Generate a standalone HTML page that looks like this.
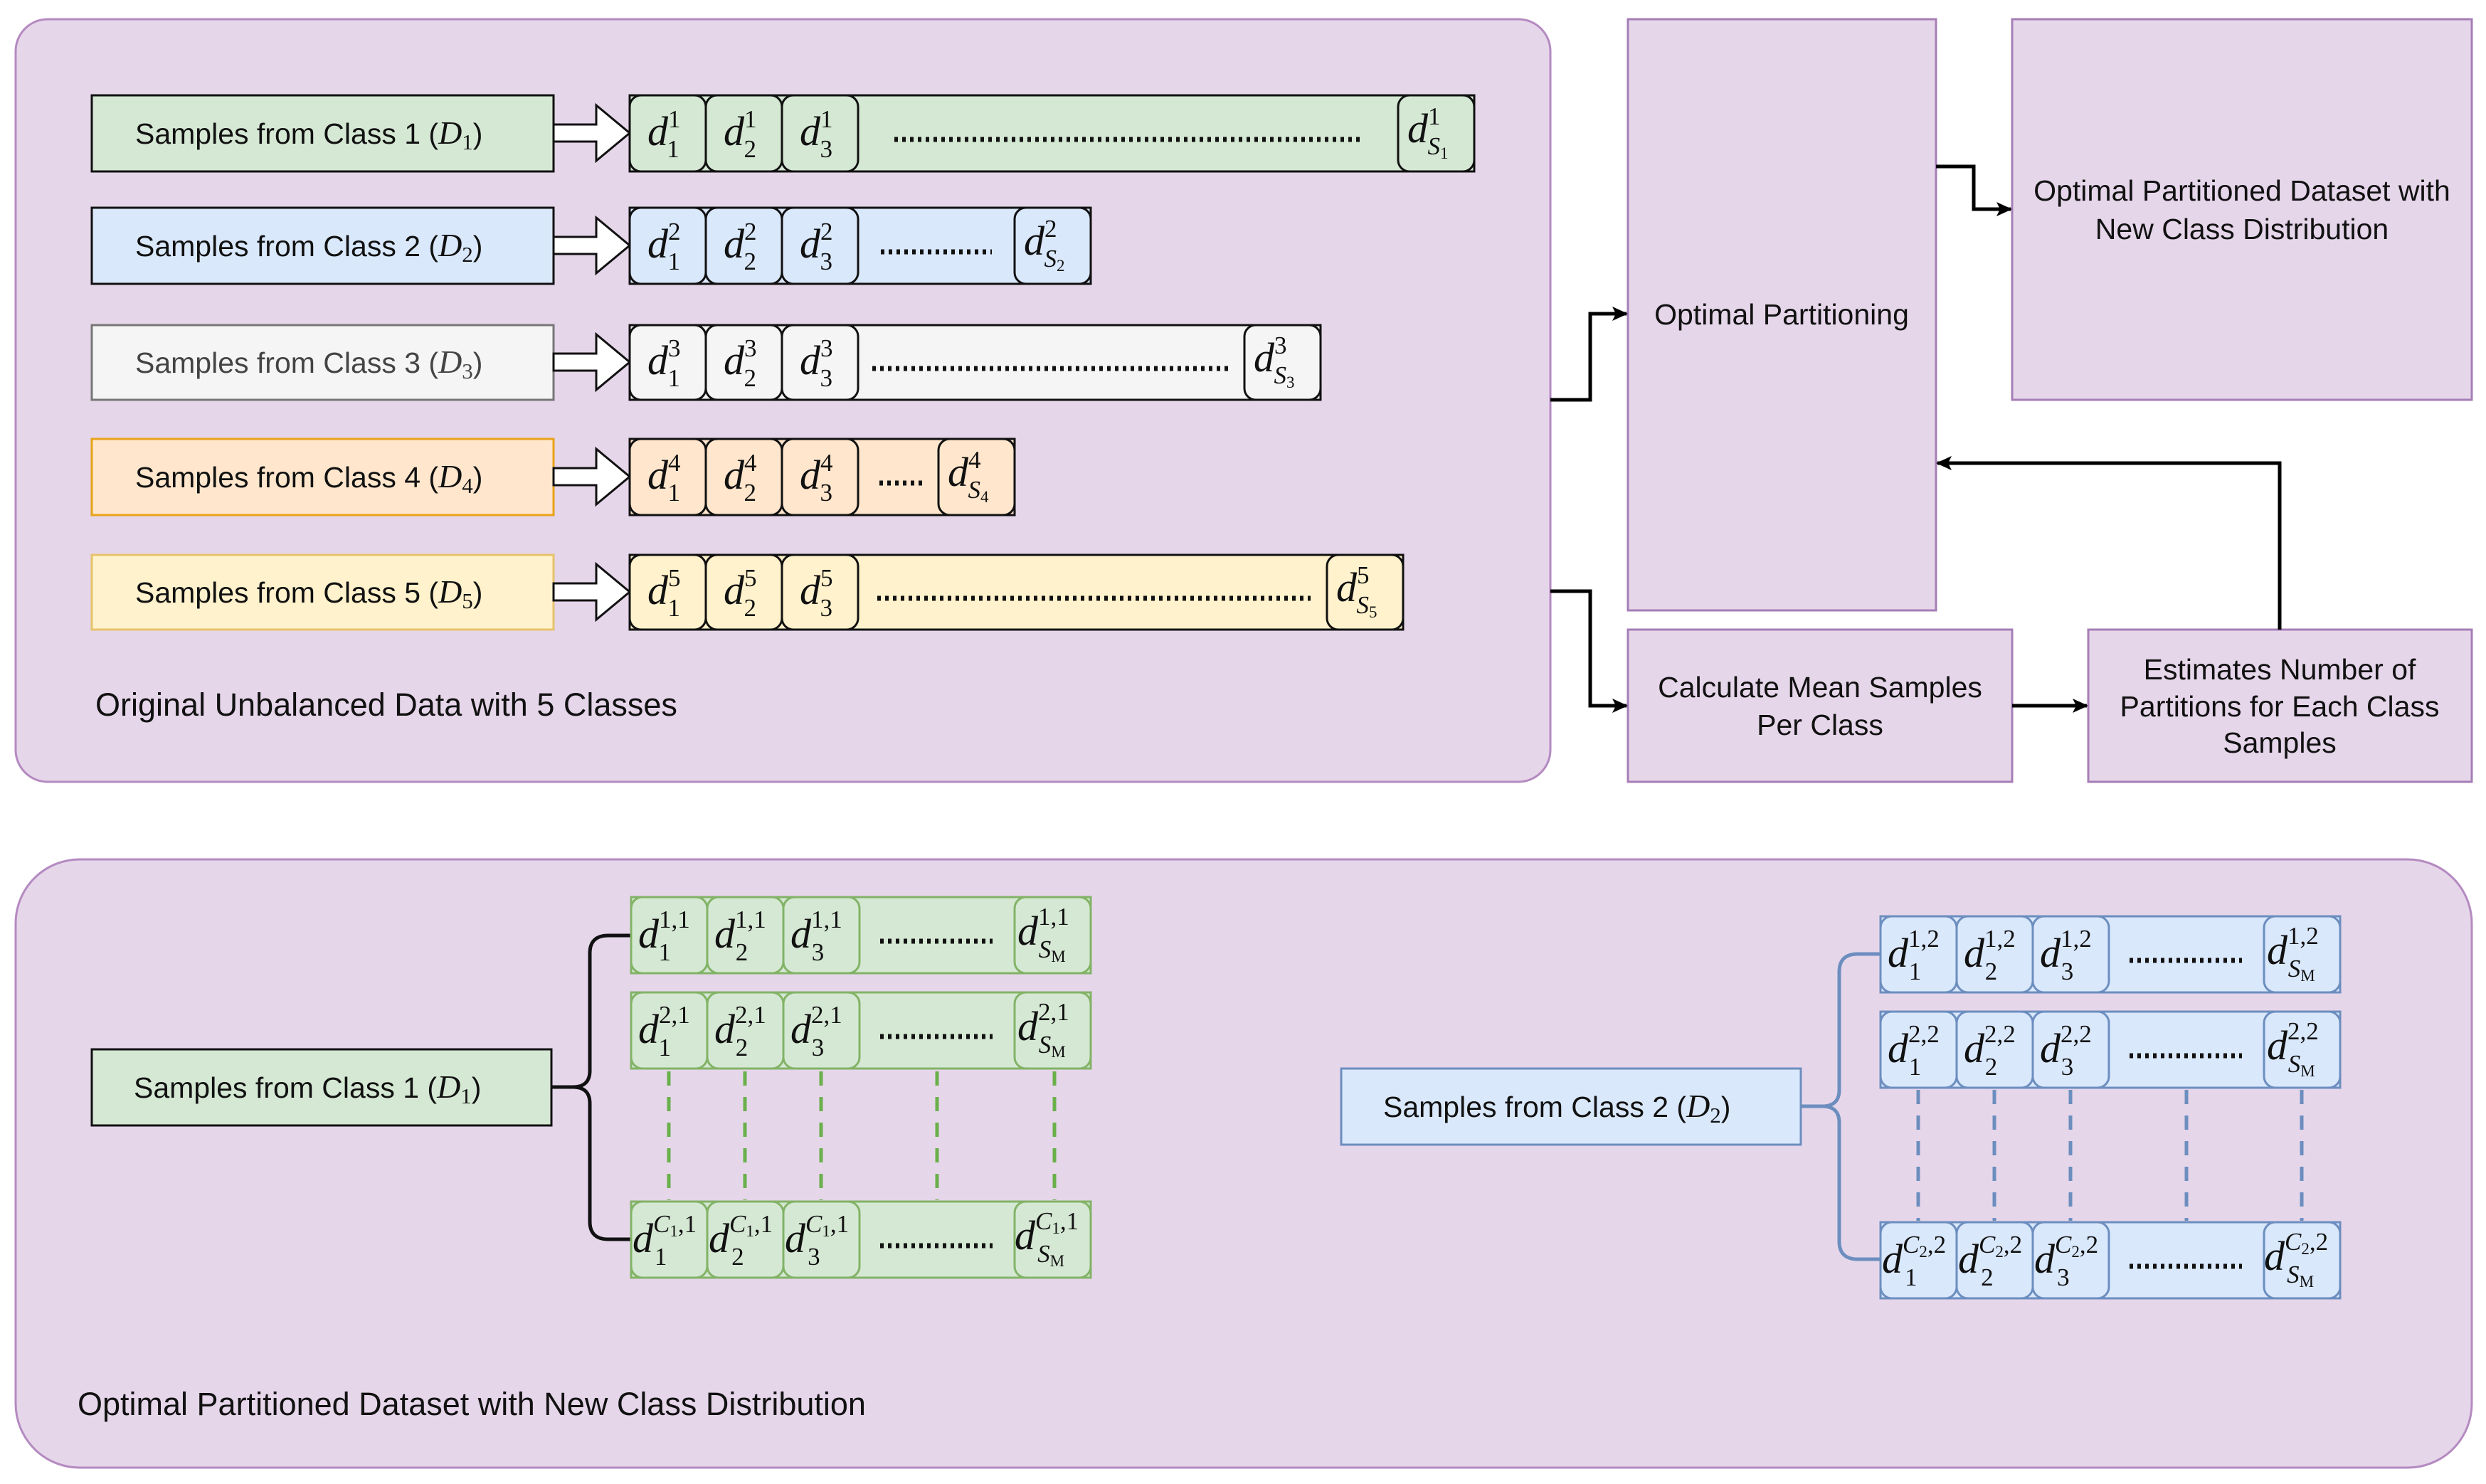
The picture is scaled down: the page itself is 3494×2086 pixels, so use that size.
<!DOCTYPE html>
<html><head><meta charset="utf-8"><style>
html,body{margin:0;padding:0;background:#fff}
svg{display:block}
.t{font-family:"Liberation Sans",sans-serif;font-size:41px;fill:#111}
.m{font-family:"Liberation Serif",serif;font-size:58px;font-style:italic;fill:#111}
.s{font-style:normal;font-size:35px}
.si{font-style:italic;font-size:35px}
.ss{font-style:normal;font-size:23px}
.dots{stroke:#111;stroke-width:7;stroke-dasharray:5 6}
</style></head><body>
<svg width="3494" height="2086" viewBox="0 0 3494 2086" xmlns="http://www.w3.org/2000/svg">
<defs>
<marker id="ar" markerWidth="24" markerHeight="24" refX="20" refY="12" orient="auto" markerUnits="userSpaceOnUse" viewBox="0 0 24 24"><path d="M0,2 L22,12 L0,22 L5,12z" fill="#000"/></marker>
</defs>
<rect x="22" y="27" width="2157" height="1072" rx="45" fill="#e6d6ea" stroke="#b48ac0" stroke-width="3"/>
<rect x="22" y="1208" width="3452" height="855" rx="90" fill="#e6d6ea" stroke="#b48ac0" stroke-width="3"/>

<rect x="2288" y="27" width="433" height="831" fill="#e6d6ea" stroke="#a67db6" stroke-width="3"/>
<rect x="2828" y="27" width="646" height="535" fill="#e6d6ea" stroke="#a67db6" stroke-width="3"/>
<rect x="2288" y="885" width="540" height="214" fill="#e6d6ea" stroke="#a67db6" stroke-width="3"/>
<rect x="2935" y="885" width="539" height="214" fill="#e6d6ea" stroke="#a67db6" stroke-width="3"/>
<text class="t" x="2504" y="456" text-anchor="middle">Optimal Partitioning</text>
<text class="t" x="3151" y="282" text-anchor="middle">Optimal Partitioned Dataset with</text>
<text class="t" x="3151" y="336" text-anchor="middle">New Class Distribution</text>
<text class="t" x="2558" y="980" text-anchor="middle">Calculate Mean Samples</text>
<text class="t" x="2558" y="1033" text-anchor="middle">Per Class</text>
<text class="t" x="3204" y="955" text-anchor="middle">Estimates Number of</text>
<text class="t" x="3204" y="1007" text-anchor="middle">Partitions for Each Class</text>
<text class="t" x="3204" y="1058" text-anchor="middle">Samples</text>

<g fill="none" stroke="#000" stroke-width="5">
<path d="M2179,562 H2235 V441 H2286" marker-end="url(#ar)"/>
<path d="M2179,831 H2235 V992 H2286" marker-end="url(#ar)"/>
<path d="M2828,992 H2933" marker-end="url(#ar)"/>
<path d="M3204,885 V651 H2723" marker-end="url(#ar)"/>
<path d="M2721,234 H2774 V294 H2826" marker-end="url(#ar)"/>
</g>

<rect x="129" y="134" width="649" height="107" fill="#d5e8d4" stroke="#111" stroke-width="3"/>
<rect x="129" y="292" width="649" height="107" fill="#dae8fc" stroke="#111" stroke-width="3"/>
<rect x="129" y="457" width="649" height="105" fill="#f5f5f5" stroke="#777" stroke-width="3"/>
<rect x="129" y="617" width="649" height="107" fill="#ffe6cc" stroke="#e8a317" stroke-width="3"/>
<rect x="129" y="780" width="649" height="105" fill="#fff2cc" stroke="#e6c36a" stroke-width="3"/>
<text class="t" x="190" y="202">Samples from Class 1 (<tspan font-family="Liberation Serif" font-style="italic" font-size="46">D</tspan><tspan font-family="Liberation Serif" font-size="31" dy="8">1</tspan><tspan dy="-8">)</tspan></text>
<text class="t" x="190" y="360">Samples from Class 2 (<tspan font-family="Liberation Serif" font-style="italic" font-size="46">D</tspan><tspan font-family="Liberation Serif" font-size="31" dy="8">2</tspan><tspan dy="-8">)</tspan></text>
<text class="t" x="190" y="524" style="fill:#444">Samples from Class 3 (<tspan font-family="Liberation Serif" font-style="italic" font-size="46">D</tspan><tspan font-family="Liberation Serif" font-size="31" dy="8">3</tspan><tspan dy="-8">)</tspan></text>
<text class="t" x="190" y="685">Samples from Class 4 (<tspan font-family="Liberation Serif" font-style="italic" font-size="46">D</tspan><tspan font-family="Liberation Serif" font-size="31" dy="8">4</tspan><tspan dy="-8">)</tspan></text>
<text class="t" x="190" y="847">Samples from Class 5 (<tspan font-family="Liberation Serif" font-style="italic" font-size="46">D</tspan><tspan font-family="Liberation Serif" font-size="31" dy="8">5</tspan><tspan dy="-8">)</tspan></text>

<g fill="#fff" stroke="#111" stroke-width="3">
<path d="M778,175 H838 V148 L885,187 L838,226 V199 H778 Z"/>
<path d="M778,333 H838 V306 L885,345 L838,384 V357 H778 Z"/>
<path d="M778,497 H838 V470 L885,509 L838,548 V521 H778 Z"/>
<path d="M778,658 H838 V631 L885,670 L838,709 V682 H778 Z"/>
<path d="M778,820 H838 V793 L885,832 L838,871 V844 H778 Z"/>
</g>

<g stroke="#111" stroke-width="3">
<rect x="885" y="134" width="1187" height="107" fill="#d5e8d4"/>
<rect x="885" y="292" width="648" height="107" fill="#dae8fc"/>
<rect x="885" y="457" width="971" height="105" fill="#f5f5f5"/>
<rect x="885" y="617" width="541" height="107" fill="#ffe6cc"/>
<rect x="885" y="780" width="1087" height="105" fill="#fff2cc"/>
</g>
<g stroke="#111" stroke-width="3" fill="none">
<rect x="885" y="134" width="107" height="107" rx="16"/><rect x="992" y="134" width="107" height="107" rx="16"/><rect x="1099" y="134" width="107" height="107" rx="16"/><rect x="1965" y="134" width="107" height="107" rx="16"/>
<rect x="885" y="292" width="107" height="107" rx="16"/><rect x="992" y="292" width="107" height="107" rx="16"/><rect x="1099" y="292" width="107" height="107" rx="16"/><rect x="1426" y="292" width="107" height="107" rx="16"/>
<rect x="885" y="457" width="107" height="105" rx="16"/><rect x="992" y="457" width="107" height="105" rx="16"/><rect x="1099" y="457" width="107" height="105" rx="16"/><rect x="1749" y="457" width="107" height="105" rx="16"/>
<rect x="885" y="617" width="107" height="107" rx="16"/><rect x="992" y="617" width="107" height="107" rx="16"/><rect x="1099" y="617" width="107" height="107" rx="16"/><rect x="1319" y="617" width="107" height="107" rx="16"/>
<rect x="885" y="780" width="107" height="105" rx="16"/><rect x="992" y="780" width="107" height="105" rx="16"/><rect x="1099" y="780" width="107" height="105" rx="16"/><rect x="1865" y="780" width="107" height="105" rx="16"/>
</g>
<g class="dots">
<line x1="1257" y1="196" x2="1916" y2="196"/>
<line x1="1238" y1="354" x2="1394" y2="354"/>
<line x1="1226" y1="518" x2="1729" y2="518"/>
<line x1="1236" y1="679" x2="1300" y2="679"/>
<line x1="1233" y1="841" x2="1842" y2="841"/>
</g>
<g>
<text class="m" x="910" y="204">d<tspan class="s" dy="-25">1</tspan><tspan class="s" dx="-18" dy="42">1</tspan></text>
<text class="m" x="1017" y="204">d<tspan class="s" dy="-25">1</tspan><tspan class="s" dx="-18" dy="42">2</tspan></text>
<text class="m" x="1124" y="204">d<tspan class="s" dy="-25">1</tspan><tspan class="s" dx="-18" dy="42">3</tspan></text>
<text class="m" x="1978" y="200">d<tspan class="s" dy="-25">1</tspan><tspan class="si" dx="-18" dy="42">S</tspan><tspan class="ss" dy="6">1</tspan></text>

<text class="m" x="910" y="362">d<tspan class="s" dy="-25">2</tspan><tspan class="s" dx="-18" dy="42">1</tspan></text>
<text class="m" x="1017" y="362">d<tspan class="s" dy="-25">2</tspan><tspan class="s" dx="-18" dy="42">2</tspan></text>
<text class="m" x="1124" y="362">d<tspan class="s" dy="-25">2</tspan><tspan class="s" dx="-18" dy="42">3</tspan></text>
<text class="m" x="1439" y="358">d<tspan class="s" dy="-25">2</tspan><tspan class="si" dx="-18" dy="42">S</tspan><tspan class="ss" dy="6">2</tspan></text>

<text class="m" x="910" y="526">d<tspan class="s" dy="-25">3</tspan><tspan class="s" dx="-18" dy="42">1</tspan></text>
<text class="m" x="1017" y="526">d<tspan class="s" dy="-25">3</tspan><tspan class="s" dx="-18" dy="42">2</tspan></text>
<text class="m" x="1124" y="526">d<tspan class="s" dy="-25">3</tspan><tspan class="s" dx="-18" dy="42">3</tspan></text>
<text class="m" x="1762" y="522">d<tspan class="s" dy="-25">3</tspan><tspan class="si" dx="-18" dy="42">S</tspan><tspan class="ss" dy="6">3</tspan></text>

<text class="m" x="910" y="687">d<tspan class="s" dy="-25">4</tspan><tspan class="s" dx="-18" dy="42">1</tspan></text>
<text class="m" x="1017" y="687">d<tspan class="s" dy="-25">4</tspan><tspan class="s" dx="-18" dy="42">2</tspan></text>
<text class="m" x="1124" y="687">d<tspan class="s" dy="-25">4</tspan><tspan class="s" dx="-18" dy="42">3</tspan></text>
<text class="m" x="1332" y="683">d<tspan class="s" dy="-25">4</tspan><tspan class="si" dx="-18" dy="42">S</tspan><tspan class="ss" dy="6">4</tspan></text>

<text class="m" x="910" y="849">d<tspan class="s" dy="-25">5</tspan><tspan class="s" dx="-18" dy="42">1</tspan></text>
<text class="m" x="1017" y="849">d<tspan class="s" dy="-25">5</tspan><tspan class="s" dx="-18" dy="42">2</tspan></text>
<text class="m" x="1124" y="849">d<tspan class="s" dy="-25">5</tspan><tspan class="s" dx="-18" dy="42">3</tspan></text>
<text class="m" x="1878" y="845">d<tspan class="s" dy="-25">5</tspan><tspan class="si" dx="-18" dy="42">S</tspan><tspan class="ss" dy="6">5</tspan></text>
</g>
<text class="t" x="134" y="1006" style="font-size:45px">Original Unbalanced Data with 5 Classes</text>

<rect x="129" y="1475" width="646" height="107" fill="#d5e8d4" stroke="#111" stroke-width="3"/>
<text class="t" x="188" y="1543">Samples from Class 1 (<tspan font-family="Liberation Serif" font-style="italic" font-size="46">D</tspan><tspan font-family="Liberation Serif" font-size="31" dy="8">1</tspan><tspan dy="-8">)</tspan></text>
<path d="M775,1528 H805 Q829,1528 829,1505 V1340 Q829,1315 855,1315 H887 M805,1528 Q829,1528 829,1551 V1717 Q829,1742 855,1742 H887" fill="none" stroke="#111" stroke-width="5"/>
<g stroke="#82b366" stroke-width="3" fill="#d5e8d4">
<rect x="887" y="1261" width="646" height="107"/>
<rect x="887" y="1395" width="646" height="107"/>
<rect x="887" y="1689" width="646" height="107"/>
</g>
<g stroke="#82b366" stroke-width="3" fill="none">
<rect x="887" y="1261" width="107" height="107" rx="16"/><rect x="994" y="1261" width="107" height="107" rx="16"/><rect x="1101" y="1261" width="107" height="107" rx="16"/><rect x="1426" y="1261" width="107" height="107" rx="16"/>
<rect x="887" y="1395" width="107" height="107" rx="16"/><rect x="994" y="1395" width="107" height="107" rx="16"/><rect x="1101" y="1395" width="107" height="107" rx="16"/><rect x="1426" y="1395" width="107" height="107" rx="16"/>
<rect x="887" y="1689" width="107" height="107" rx="16"/><rect x="994" y="1689" width="107" height="107" rx="16"/><rect x="1101" y="1689" width="107" height="107" rx="16"/><rect x="1426" y="1689" width="107" height="107" rx="16"/>
</g>
<g stroke="#6ab04c" stroke-width="5" stroke-dasharray="20 16">
<line x1="940" y1="1506" x2="940" y2="1687"/><line x1="1047" y1="1506" x2="1047" y2="1687"/><line x1="1154" y1="1506" x2="1154" y2="1687"/><line x1="1317" y1="1506" x2="1317" y2="1687"/><line x1="1482" y1="1506" x2="1482" y2="1687"/>
</g>
<g class="dots">
<line x1="1237" y1="1323" x2="1395" y2="1323"/>
<line x1="1237" y1="1457" x2="1395" y2="1457"/>
<line x1="1237" y1="1751" x2="1395" y2="1751"/>
</g>
<g>
<text class="m" x="897" y="1332">d<tspan class="s" dy="-28">1,1</tspan><tspan class="s" dx="-43" dy="46">1</tspan></text>
<text class="m" x="1004" y="1332">d<tspan class="s" dy="-28">1,1</tspan><tspan class="s" dx="-43" dy="46">2</tspan></text>
<text class="m" x="1111" y="1332">d<tspan class="s" dy="-28">1,1</tspan><tspan class="s" dx="-43" dy="46">3</tspan></text>
<text class="m" x="1430" y="1328">d<tspan class="s" dy="-28">1,1</tspan><tspan class="si" dx="-43" dy="46">S</tspan><tspan class="ss" dy="6">M</tspan></text>

<text class="m" x="897" y="1466">d<tspan class="s" dy="-28">2,1</tspan><tspan class="s" dx="-43" dy="46">1</tspan></text>
<text class="m" x="1004" y="1466">d<tspan class="s" dy="-28">2,1</tspan><tspan class="s" dx="-43" dy="46">2</tspan></text>
<text class="m" x="1111" y="1466">d<tspan class="s" dy="-28">2,1</tspan><tspan class="s" dx="-43" dy="46">3</tspan></text>
<text class="m" x="1430" y="1462">d<tspan class="s" dy="-28">2,1</tspan><tspan class="si" dx="-43" dy="46">S</tspan><tspan class="ss" dy="6">M</tspan></text>

<text class="m" x="889" y="1760">d<tspan class="si" dy="-28">C</tspan><tspan class="ss" dy="6">1</tspan><tspan class="s" dy="-6">,1</tspan><tspan class="s" dx="-58" dy="46">1</tspan></text>
<text class="m" x="996" y="1760">d<tspan class="si" dy="-28">C</tspan><tspan class="ss" dy="6">1</tspan><tspan class="s" dy="-6">,1</tspan><tspan class="s" dx="-58" dy="46">2</tspan></text>
<text class="m" x="1103" y="1760">d<tspan class="si" dy="-28">C</tspan><tspan class="ss" dy="6">1</tspan><tspan class="s" dy="-6">,1</tspan><tspan class="s" dx="-58" dy="46">3</tspan></text>
<text class="m" x="1426" y="1756">d<tspan class="si" dy="-28">C</tspan><tspan class="ss" dy="6">1</tspan><tspan class="s" dy="-6">,1</tspan><tspan class="si" dx="-58" dy="46">S</tspan><tspan class="ss" dy="6">M</tspan></text>
</g>

<rect x="1885" y="1502" width="646" height="107" fill="#dae8fc" stroke="#6c8ebf" stroke-width="3"/>
<text class="t" x="1944" y="1570">Samples from Class 2 (<tspan font-family="Liberation Serif" font-style="italic" font-size="46">D</tspan><tspan font-family="Liberation Serif" font-size="31" dy="8">2</tspan><tspan dy="-8">)</tspan></text>
<path d="M2531,1555 H2561 Q2585,1555 2585,1532 V1366 Q2585,1341 2611,1341 H2643 M2561,1555 Q2585,1555 2585,1578 V1745 Q2585,1770 2611,1770 H2643" fill="none" stroke="#6c8ebf" stroke-width="5"/>
<g stroke="#6c8ebf" stroke-width="3" fill="#dae8fc">
<rect x="2643" y="1288" width="646" height="107"/>
<rect x="2643" y="1422" width="646" height="107"/>
<rect x="2643" y="1718" width="646" height="107"/>
</g>
<g stroke="#6c8ebf" stroke-width="3" fill="none">
<rect x="2643" y="1288" width="107" height="107" rx="16"/><rect x="2750" y="1288" width="107" height="107" rx="16"/><rect x="2857" y="1288" width="107" height="107" rx="16"/><rect x="3182" y="1288" width="107" height="107" rx="16"/>
<rect x="2643" y="1422" width="107" height="107" rx="16"/><rect x="2750" y="1422" width="107" height="107" rx="16"/><rect x="2857" y="1422" width="107" height="107" rx="16"/><rect x="3182" y="1422" width="107" height="107" rx="16"/>
<rect x="2643" y="1718" width="107" height="107" rx="16"/><rect x="2750" y="1718" width="107" height="107" rx="16"/><rect x="2857" y="1718" width="107" height="107" rx="16"/><rect x="3182" y="1718" width="107" height="107" rx="16"/>
</g>
<g stroke="#6c8ebf" stroke-width="5" stroke-dasharray="20 16">
<line x1="2696" y1="1532" x2="2696" y2="1716"/><line x1="2803" y1="1532" x2="2803" y2="1716"/><line x1="2910" y1="1532" x2="2910" y2="1716"/><line x1="3073" y1="1532" x2="3073" y2="1716"/><line x1="3235" y1="1532" x2="3235" y2="1716"/>
</g>
<g class="dots">
<line x1="2993" y1="1350" x2="3151" y2="1350"/>
<line x1="2993" y1="1484" x2="3151" y2="1484"/>
<line x1="2993" y1="1780" x2="3151" y2="1780"/>
</g>
<g>
<text class="m" x="2653" y="1359">d<tspan class="s" dy="-28">1,2</tspan><tspan class="s" dx="-43" dy="46">1</tspan></text>
<text class="m" x="2760" y="1359">d<tspan class="s" dy="-28">1,2</tspan><tspan class="s" dx="-43" dy="46">2</tspan></text>
<text class="m" x="2867" y="1359">d<tspan class="s" dy="-28">1,2</tspan><tspan class="s" dx="-43" dy="46">3</tspan></text>
<text class="m" x="3186" y="1355">d<tspan class="s" dy="-28">1,2</tspan><tspan class="si" dx="-43" dy="46">S</tspan><tspan class="ss" dy="6">M</tspan></text>

<text class="m" x="2653" y="1493">d<tspan class="s" dy="-28">2,2</tspan><tspan class="s" dx="-43" dy="46">1</tspan></text>
<text class="m" x="2760" y="1493">d<tspan class="s" dy="-28">2,2</tspan><tspan class="s" dx="-43" dy="46">2</tspan></text>
<text class="m" x="2867" y="1493">d<tspan class="s" dy="-28">2,2</tspan><tspan class="s" dx="-43" dy="46">3</tspan></text>
<text class="m" x="3186" y="1489">d<tspan class="s" dy="-28">2,2</tspan><tspan class="si" dx="-43" dy="46">S</tspan><tspan class="ss" dy="6">M</tspan></text>

<text class="m" x="2645" y="1789">d<tspan class="si" dy="-28">C</tspan><tspan class="ss" dy="6">2</tspan><tspan class="s" dy="-6">,2</tspan><tspan class="s" dx="-58" dy="46">1</tspan></text>
<text class="m" x="2752" y="1789">d<tspan class="si" dy="-28">C</tspan><tspan class="ss" dy="6">2</tspan><tspan class="s" dy="-6">,2</tspan><tspan class="s" dx="-58" dy="46">2</tspan></text>
<text class="m" x="2859" y="1789">d<tspan class="si" dy="-28">C</tspan><tspan class="ss" dy="6">2</tspan><tspan class="s" dy="-6">,2</tspan><tspan class="s" dx="-58" dy="46">3</tspan></text>
<text class="m" x="3182" y="1785">d<tspan class="si" dy="-28">C</tspan><tspan class="ss" dy="6">2</tspan><tspan class="s" dy="-6">,2</tspan><tspan class="si" dx="-58" dy="46">S</tspan><tspan class="ss" dy="6">M</tspan></text>
</g>
<text class="t" x="109" y="1989" style="font-size:45px">Optimal Partitioned Dataset with New Class Distribution</text>
</svg>
</body></html>
